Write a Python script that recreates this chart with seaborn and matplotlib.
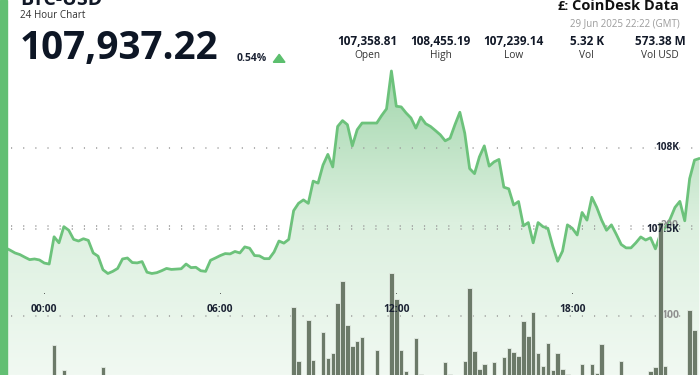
import numpy as np
import pandas as pd
import seaborn as sns
import matplotlib.pyplot as plt
from matplotlib.colors import LinearSegmentedColormap
from matplotlib.patches import Rectangle, Polygon
from matplotlib.transforms import blended_transform_factory

# 10-minute closes, 22:40 (28 Jun) .. 22:20 (29 Jun)
prices = [107387, 107372, 107355, 107345, 107329, 107314, 107318, 107312, 107293, 107287,
          107454, 107417, 107516, 107494, 107438, 107428, 107442, 107432, 107355, 107335,
          107252, 107229, 107242, 107260, 107318, 107324, 107296, 107294, 107302, 107237,
          107229, 107234, 107246, 107260, 107254, 107256, 107258, 107287, 107265, 107267,
          107246, 107242, 107310, 107324, 107339, 107351, 107349, 107364, 107355, 107392,
          107384, 107339, 107337, 107320, 107320, 107361, 107428, 107415, 107438, 107614,
          107659, 107680, 107659, 107795, 107783, 107893, 107959, 107882, 108130, 108166,
          108141, 108011, 108110, 108151, 108151, 108151, 108151, 108197, 108238, 108470,
          108254, 108250, 108213, 108182, 108120, 108188, 108147, 108130, 108105, 108079,
          108042, 108058, 108141, 108217, 108089, 107872, 107841, 107944, 108011, 107887,
          107913, 107928, 107758, 107748, 107649, 107670, 107521, 107541, 107417, 107541,
          107516, 107506, 107397, 107304, 107366, 107527, 107506, 107465, 107603, 107556,
          107696, 107634, 107556, 107494, 107527, 107469, 107407, 107386, 107386, 107417,
          107453, 107434, 107448, 107380, 107469, 107510, 107562, 107634, 107671, 107552,
          107810, 107924, 107934]
volumes = [36, 22, 18, 25, 20, 15, 19, 24, 28, 21,
           68, 26, 40, 22, 17, 14, 20, 16, 23, 27,
           43, 25, 19, 14, 22, 18, 12, 16, 20, 24,
           15, 13, 18, 11, 14, 10, 16, 12, 15, 13,
           18, 22, 26, 17, 20, 15, 19, 14, 23, 21,
           16, 24, 18, 20, 27, 25, 30, 22, 28, 110,
           50, 31, 96, 51, 30, 82, 53, 59, 114, 139,
           90, 67, 72, 77, 28, 31, 62, 29, 26, 148,
           119, 62, 39, 24, 76, 36, 27, 22, 30, 25,
           49, 36, 28, 21, 50, 131, 61, 41, 47, 33,
           49, 30, 54, 64, 60, 56, 94, 78, 104, 59,
           44, 70, 40, 59, 41, 36, 27, 24, 47, 30,
           47, 37, 69, 26, 22, 29, 50, 20, 25, 18,
           23, 28, 39, 43, 204, 44, 31, 26, 22, 29,
           107, 84, 33]
start_time = '2025-06-28 22:40'
tick_minutes = [0, 360, 720, 1080]
tick_labels = ['00:00', '06:00', '12:00', '18:00']
price_ticks = [108000, 107500]
price_tick_labels = ['108K', '107.5K']
vol_ticks = [100, 200]
stat_values = ['107,358.81', '108,455.19', '107,239.14', '5.32 K', '573.38 M']
stat_names = ['Open', 'High', 'Low', 'Vol', 'Vol USD']

times = pd.date_range(start_time, periods=len(prices), freq='10min')
df = pd.DataFrame({
    'minute': (times - pd.Timestamp('2025-06-29')).total_seconds() / 60,
    'price': prices,
    'volume': volumes,
})

sns.set_theme(style='white')
plt.rcParams['font.family'] = ['Open Sans', 'DejaVu Sans']

W, H = 700, 375
fig = plt.figure(figsize=(7, 3.75), dpi=100)


def fx(x):
    return x / W


def fy(y):
    return 1 - y / H


XLIM = (-76.3, 1341.2)
PLIM = (106607, 108905)
VLIM = (34.4, 451.1)

ax = fig.add_axes([fx(7), 0, 1 - fx(7), 1])

# gradient area under the price line
poly = ax.fill_between(df['minute'], df['price'], PLIM[0] - 500, color='none', lw=0)
grad = np.linspace(0, 1, 256).reshape(-1, 1)
cmap = LinearSegmentedColormap.from_list('g', ['#f1f9f2', '#dcf0df', '#a2d6ac'])
im = ax.imshow(grad, cmap=cmap, aspect='auto', origin='lower',
               extent=[XLIM[0], XLIM[1], PLIM[0], 108480], zorder=1)
im.set_clip_path(poly.get_paths()[0], transform=ax.transData)

sns.lineplot(data=df, x='minute', y='price', ax=ax, color='#6cc27b', lw=2, zorder=3)

for p in price_ticks:
    ax.axhline(p, xmin=0.006, color='#9a9a9a', lw=1.1, dashes=(0.75, 7.2), zorder=2)

ax.set_xlim(*XLIM)
ax.set_ylim(*PLIM)
ax.axis('off')

# volume bars on a twin axis
ax2 = ax.twinx()
sns.barplot(data=df, x='minute', y='volume', native_scale=True, ax=ax2,
            color='#6c7a69', saturation=1, width=0.9, edgecolor='#e4ece4',
            linewidth=0.6, zorder=2)
for v in vol_ticks:
    ax2.axhline(v, xmin=0.006, color='#9a9a9a', lw=1.1, dashes=(0.75, 7.2), zorder=0.5)
ax2.set_xlim(*XLIM)
ax2.set_ylim(*VLIM)
ax2.axis('off')

# axis labels drawn as text
lab_x = (679 - 7) / (W - 7)
tr_price = blended_transform_factory(ax2.transAxes, ax.transData)
for p, lab in zip(price_ticks, price_tick_labels):
    ax2.text(lab_x, p, lab, transform=tr_price, ha='right', va='center',
             fontsize=7.3, weight='bold', color='#1b2233', zorder=6)
tr_vol = blended_transform_factory(ax2.transAxes, ax2.transData)
for v in vol_ticks:
    ax2.text(lab_x, v, str(v), transform=tr_vol, ha='right', va='center',
             fontsize=7.6, weight='bold', color='#8f8f8f', zorder=1)

tr_tick = blended_transform_factory(ax2.transData, fig.transFigure)
for m, lab in zip(tick_minutes, tick_labels):
    ax2.text(m, fy(310), lab, transform=tr_tick, ha='center', va='center',
             fontsize=7.4, weight='bold', color='#1b2233', zorder=6)
    ax2.plot([m], [fy(293.3)], transform=tr_tick, marker='s', ms=0.5, mew=0,
             color='#333', zorder=6)

# left accent stripe
fig.patches.append(Rectangle((0, 0), fx(7), 1, transform=fig.transFigure,
                             color='#62bf73', zorder=10))

# header
fig.text(fx(20), fy(5), 'BTC-USD', ha='left', va='baseline', fontsize=14,
         weight='bold', color='#111827')
fig.text(fx(20.5), fy(16), '24 Hour Chart', ha='left', va='center', fontsize=7.1, color='#333')
fig.text(fx(20), fy(59.3), '107,937.22', ha='left', va='baseline', fontsize=27.8,
         weight='bold', color='#0d1625')
fig.text(fx(237), fy(61), '0.54%', ha='left', va='baseline', fontsize=7.5,
         weight='bold', color='#1b2233')
fig.patches.append(Polygon([(fx(273.3), fy(62.3)), (fx(285), fy(62.3)), (fx(279.2), fy(54.3))],
                           closed=True, transform=fig.transFigure, color='#5cbf6e'))

stat_x = [367.8, 440.8, 513.8, 586.8, 660]
for x, val, name in zip(stat_x, stat_values, stat_names):
    fig.text(fx(x), fy(41.3), val, ha='center', va='center', fontsize=8.5,
             weight='bold', color='#111827')
    fig.text(fx(x), fy(55.8), name, ha='center', va='center', fontsize=7.3, color='#333')

fig.text(fx(680), fy(24), '29 Jun 2025 22:22 (GMT)', ha='right', va='center',
         fontsize=7, color='#9b9b9b')
fig.text(fx(679), fy(9.5), 'CoinDesk Data', ha='right', va='baseline', fontsize=10.5,
         weight='bold', color='#111')
fig.text(fx(558), fy(9.5), '£:', ha='left', va='baseline', fontsize=9.5,
         weight='bold', color='#111')

fig.savefig('out.png', dpi=100)
